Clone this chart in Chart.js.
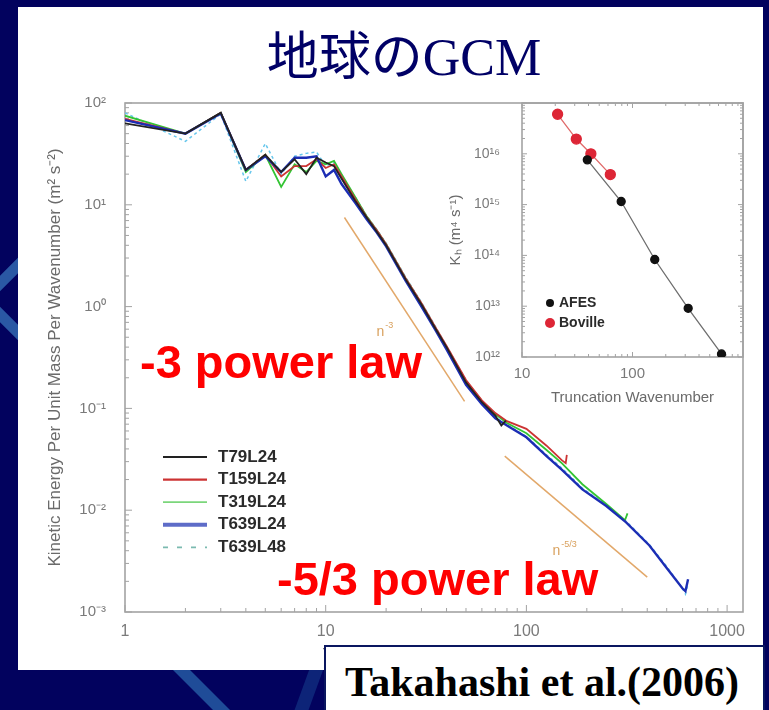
<!DOCTYPE html>
<html>
<head>
<meta charset="utf-8">
<script src="https://cdn.jsdelivr.net/npm/chart.js@4.4.1/dist/chart.umd.min.js"></script>
<style>
  html, body { margin: 0; padding: 0; }
  body { width: 769px; height: 710px; position: relative; overflow: hidden; background: #02025e; }
  .stripe { position: absolute; }
  #panel { position: absolute; left: 18px; top: 7px; width: 745px; height: 663px; background: #fff; }
  #title { position: absolute; left: 0; top: 32px; width: 808px; text-align: center; margin: 0;
           font: normal 52px/52px "Liberation Serif", "Noto Sans CJK JP", serif; color: #000066; }
  #mainWrap { position: absolute; left: 18px; top: 95px; }
  #insetWrap { position: absolute; left: 430px; top: 95px; }
  .law { position: absolute; font: bold 47px/47px "Liberation Sans", Arial, sans-serif; color: #ff0000; white-space: nowrap; }
  #ref { position: absolute; left: 324px; top: 645px; width: 437px; height: 80px; background: #fff;
         border: 2px solid #0a1660; }
  #ref span { position: absolute; left: 19px; top: 14px; font: bold 42px/42px "Liberation Serif", "Times New Roman", serif;
              color: #000; white-space: nowrap; }
</style>
</head>
<body>
<div class="stripe" style="left:198px;top:655px;width:17px;height:80px;background:#1f4c98;transform:skewX(45deg);"></div>
<div class="stripe" style="left:300px;top:660px;width:14px;height:70px;background:#0d2478;transform:skewX(-20deg);"></div>
<div class="stripe" style="left:-8px;top:262px;width:52px;height:52px;border:11px solid #2a58a4;transform:rotate(45deg);"></div>
<div id="panel"></div>
<div id="title">地球のGCM</div>
<div id="mainWrap"><canvas id="main" width="745" height="575"></canvas></div>
<div id="insetWrap"><canvas id="inset" width="333" height="315"></canvas></div>
<div class="law" style="left:140px;top:338px;">-3 power law</div>
<div class="law" style="left:277px;top:555px;">-5/3 power law</div>
<div id="ref"><span>Takahashi et al.(2006)</span></div>

<script>
// ---- main spectrum data ----
const nT79 = [1,2,3,4,5,6,7,8,9,10,11,12,14,16,18,20,25,30,35,40,50,60,70,75,79];
const eT79 = [63,50,80,22,31,21,28,20,29,26,24,18,11,7.5,5.4,4.0,1.85,1.05,0.62,0.40,0.18,0.115,0.085,0.068,0.076];

const nT159 = [1,2,3,4,5,6,7,8,9,10,11,12,14,16,18,20,25,30,35,40,50,60,70,80,100,126,150,157,159];
const eT159 = [70,50,80,22,31,19,24,24,28,23,25,19,11.5,7.6,5.6,4.1,1.9,1.08,0.64,0.41,0.19,0.12,0.09,0.075,0.063,0.043,0.031,0.029,0.035];

const nT319 = [1,2,3,4,5,6,7,8,9,10,11,12,14,16,18,20,25,30,35,40,50,60,70,80,100,126,150,190,250,310,319];
const eT319 = [75,50,80,21,31,15,25,21,27,25,27,20,12,7.7,5.6,4.1,1.9,1.07,0.63,0.40,0.185,0.118,0.088,0.072,0.057,0.039,0.029,0.018,0.0115,0.0080,0.0093];

const nT639 = [1,2,3,4,5,6,7,8,9,10,11,12,14,16,18,20,25,30,35,40,50,60,70,80,100,126,150,190,250,314,410,500,600,620,639];
const eT639L24 = [68,50,79,22,30,21,29,29,30,19,22,16,10.5,7.2,5.3,3.9,1.8,1.0,0.60,0.38,0.17,0.11,0.08,0.068,0.052,0.034,0.025,0.016,0.011,0.0076,0.0045,0.0027,0.0017,0.0016,0.0021];
const eT639L48 = [80,42,78,17,40,20,30,32,33,24,26,19,12,7.8,5.7,4.2,1.95,1.1,0.65,0.41,0.19,0.115,0.082,0.069,0.053,0.035,0.026,0.0165,0.0112,0.0078,0.0046,0.0028,0.0017,0.0015,0.0019];

// reference power laws
const lawM3n = [12.4, 49.2];
const lawM3e = [7.5, 0.117];
const lawM53n = [78, 400];
const lawM53e = [0.034, 0.0022];
const lawTagN = [17.9, 135];
const lawTagE = [0.51, 0.0036];
const lawTagExp = ['-3', '-5/3'];

const xTicks = [1, 10, 100, 1000];
const yTicks = [1e-3, 1e-2, 1e-1, 1, 10, 100];

// ---- inset data ----
const afesN = [39, 79, 159, 319, 639];
const afesK = [7.6e15, 1.15e15, 8.3e13, 9.1e12, 1.15e12];
const bovN = [21, 31, 42, 63];
const bovK = [6.0e16, 1.95e16, 1.0e16, 3.9e15];
const insetXTicks = [10, 100];
const insetYTicks = [1e12, 1e13, 1e14, 1e15, 1e16];

const sans = '"Liberation Sans", Arial, sans-serif';
const sup = {'-': '⁻', '0': '⁰', '1': '¹', '2': '²', '3': '³', '4': '⁴', '5': '⁵', '6': '⁶', '7': '⁷', '8': '⁸', '9': '⁹'};
function pow10Label(v) {
  const e = Math.round(Math.log10(v));
  return '10' + String(e).split('').map(c => sup[c]).join('');
}
function zip(xs, ys) { return xs.map((x, i) => ({x: x, y: ys[i]})); }

// keep the plot box where layout.padding puts it
function fixX(h) {
  return s => { s.height = h; s.paddingLeft = 0; s.paddingRight = 0; };
}
function fixY(w) {
  return s => { s.width = w; s.paddingTop = 0; s.paddingBottom = 0; };
}

// frame + inward ticks for log axes
const logFrame = {
  id: 'logFrame',
  beforeDatasetsDraw(chart, args, opts) {
    const {ctx, chartArea: a} = chart;
    const sx = chart.scales.x, sy = chart.scales.y;
    ctx.save();
    ctx.strokeStyle = opts.color;
    ctx.lineWidth = opts.width;
    ctx.strokeRect(a.left, a.top, a.right - a.left, a.bottom - a.top);
    ctx.lineWidth = 1;
    const each = (scale, fn) => {
      const lo = Math.floor(Math.log10(scale.min)), hi = Math.ceil(Math.log10(scale.max));
      for (let e = lo; e <= hi; e++) {
        for (let m = 1; m <= 9; m++) {
          const v = m * Math.pow(10, e);
          if (v < scale.min * 0.999 || v > scale.max * 1.001) continue;
          fn(scale.getPixelForValue(v), m === 1 ? opts.major : opts.minor);
        }
      }
    };
    ctx.beginPath();
    each(sx, (p, len) => {
      if (opts.sides.includes('bottom')) { ctx.moveTo(p, a.bottom); ctx.lineTo(p, a.bottom - len); }
      if (opts.sides.includes('top')) { ctx.moveTo(p, a.top); ctx.lineTo(p, a.top + len); }
    });
    each(sy, (p, len) => {
      if (opts.sides.includes('left')) { ctx.moveTo(a.left, p); ctx.lineTo(a.left + len, p); }
      if (opts.sides.includes('right')) { ctx.moveTo(a.right, p); ctx.lineTo(a.right - len, p); }
    });
    ctx.stroke();
    ctx.restore();
  }
};

// legend drawn inside the plot
const insideKey = {
  id: 'insideKey',
  afterDraw(chart, args, opts) {
    const ctx = chart.ctx;
    ctx.save();
    ctx.font = opts.font;
    ctx.fillStyle = opts.textColor;
    ctx.textBaseline = 'middle';
    let row = 0;
    chart.data.datasets.forEach(ds => {
      if (ds.inKey === false) return;
      const y = opts.y + row * opts.rowH;
      if (opts.kind === 'line') {
        ctx.strokeStyle = ds.keyColor || ds.borderColor;
        ctx.lineWidth = ds.keyWidth || ds.borderWidth;
        ctx.setLineDash(ds.keyDash || []);
        ctx.beginPath();
        ctx.moveTo(opts.x, y);
        ctx.lineTo(opts.x + opts.lineLen, y);
        ctx.stroke();
        ctx.setLineDash([]);
      } else {
        ctx.fillStyle = ds.pointBackgroundColor;
        ctx.beginPath();
        ctx.arc(opts.x, y, ds.pointRadius, 0, Math.PI * 2);
        ctx.fill();
        ctx.fillStyle = opts.textColor;
      }
      ctx.fillText(ds.label, opts.x + opts.lineLen + opts.gap, y);
      row++;
    });
    ctx.restore();
  }
};

// n^-3 / n^-5/3 tags beside the reference lines
const lawTags = {
  id: 'lawTags',
  afterDatasetsDraw(chart) {
    const {ctx, scales} = chart;
    ctx.save();
    ctx.fillStyle = '#d9a15e';
    ctx.textBaseline = 'alphabetic';
    lawTagN.forEach((n, i) => {
      const px = scales.x.getPixelForValue(n);
      const py = scales.y.getPixelForValue(lawTagE[i]);
      ctx.font = '14px ' + sans;
      ctx.fillText('n', px, py);
      const w = ctx.measureText('n').width;
      ctx.font = '9px ' + sans;
      ctx.fillText(lawTagExp[i], px + w + 1, py - 8);
    });
    ctx.restore();
  }
};

const mainSets = [
  {label: 'T79L24', data: zip(nT79, eT79), borderColor: '#222222', borderWidth: 1.8, order: 1, keyWidth: 2.2},
  {label: 'T159L24', data: zip(nT159, eT159), borderColor: '#cc3333', borderWidth: 1.8, order: 3, keyWidth: 2.2},
  {label: 'T319L24', data: zip(nT319, eT319), borderColor: '#33c433', borderWidth: 1.8, order: 4, keyColor: '#7bd67b', keyWidth: 1.8},
  {label: 'T639L24', data: zip(nT639, eT639L24), borderColor: '#1c2db4', borderWidth: 2.4, order: 2, keyColor: '#5e6cc8', keyWidth: 4},
  {label: 'T639L48', data: zip(nT639, eT639L48), borderColor: '#66c6ec', borderWidth: 1.5, borderDash: [3, 3], order: 5,
   keyColor: '#7bbab0', keyWidth: 1.8, keyDash: [5, 9]},
  {label: 'n^-3', data: zip(lawM3n, lawM3e), borderColor: '#e2a86a', borderWidth: 1.5, order: 6, inKey: false},
  {label: 'n^-5/3', data: zip(lawM53n, lawM53e), borderColor: '#e2a86a', borderWidth: 1.5, order: 6, inKey: false}
];

new Chart(document.getElementById('main'), {
  type: 'line',
  data: {datasets: mainSets},
  options: {
    responsive: false,
    animation: false,
    parsing: false,
    layout: {padding: {left: 0, right: 20, top: 8, bottom: 0}},
    elements: {point: {radius: 0}, line: {tension: 0}},
    plugins: {
      legend: {display: false},
      tooltip: {enabled: false},
      logFrame: {color: '#a3a3a3', width: 1.6, major: 7, minor: 4, sides: ['bottom', 'left']},
      insideKey: {kind: 'line', x: 145, y: 362, rowH: 22.6, lineLen: 44, gap: 11,
                  font: 'bold 17px ' + sans, textColor: '#2a2a2a'}
    },
    scales: {
      x: {
        type: 'logarithmic', min: 1, max: 1200,
        afterBuildTicks: s => { s.ticks = xTicks.map(v => ({value: v})); },
        afterFit: fixX(58),
        grid: {display: false, drawTicks: false},
        border: {display: false},
        ticks: {autoSkip: false, maxRotation: 0, padding: 10, color: '#7a7a7a',
                font: {family: sans, size: 16}, callback: v => String(v)},
        title: {display: true, text: 'Total Horizontal Wavenumber', color: '#6a6a6a',
                font: {family: sans, size: 17}, padding: {top: 0, bottom: 4}}
      },
      y: {
        type: 'logarithmic', min: 1e-3, max: 100,
        afterBuildTicks: s => { s.ticks = yTicks.map(v => ({value: v})); },
        afterFit: fixY(107),
        grid: {display: false, drawTicks: false},
        border: {display: false},
        ticks: {autoSkip: false, padding: 19, color: '#7a7a7a',
                font: {family: sans, size: 15}, callback: v => pow10Label(v)},
        title: {display: true, text: 'Kinetic Energy Per Unit Mass Per Wavenumber (m² s⁻²)', color: '#6a6a6a',
                font: {family: sans, size: 17}, padding: {top: 27, bottom: 0}}
      }
    }
  },
  plugins: [logFrame, insideKey, lawTags]
});

new Chart(document.getElementById('inset'), {
  type: 'scatter',
  data: {
    datasets: [
      {label: 'AFES', data: zip(afesN, afesK), showLine: true, borderColor: '#6e6e6e', borderWidth: 1.3,
       pointBackgroundColor: '#111111', pointBorderColor: '#111111', pointRadius: 4, order: 1},
      {label: 'Boville', data: zip(bovN, bovK), showLine: true, borderColor: '#e06a6a', borderWidth: 1.3,
       pointBackgroundColor: '#dd2636', pointBorderColor: '#dd2636', pointRadius: 5, order: 2}
    ]
  },
  options: {
    responsive: false,
    animation: false,
    parsing: false,
    layout: {padding: {left: 0, right: 20, top: 8, bottom: 0}},
    plugins: {
      legend: {display: false},
      tooltip: {enabled: false},
      logFrame: {color: '#a3a3a3', width: 1.6, major: 5, minor: 3, sides: ['bottom', 'left', 'top', 'right']},
      insideKey: {kind: 'dot', x: 120, y: 208, rowH: 20, lineLen: 0, gap: 9,
                  font: 'bold 14px ' + sans, textColor: '#2a2a2a'}
    },
    scales: {
      x: {
        type: 'logarithmic', min: 10, max: 1000,
        afterBuildTicks: s => { s.ticks = insetXTicks.map(v => ({value: v})); },
        afterFit: fixX(53),
        grid: {display: false, drawTicks: false},
        border: {display: false},
        ticks: {autoSkip: false, maxRotation: 0, padding: 8, color: '#7a7a7a',
                font: {family: sans, size: 15}, callback: v => String(v)},
        title: {display: true, text: 'Truncation Wavenumber', color: '#6a6a6a',
                font: {family: sans, size: 15}, padding: {top: 0, bottom: 3}}
      },
      y: {
        type: 'logarithmic', min: 1e12, max: 1e17,
        afterBuildTicks: s => { s.ticks = insetYTicks.map(v => ({value: v})); },
        afterFit: fixY(92),
        grid: {display: false, drawTicks: false},
        border: {display: false},
        ticks: {autoSkip: false, padding: 22, color: '#7a7a7a',
                font: {family: sans, size: 14}, callback: v => pow10Label(v)},
        title: {display: true, text: 'Kₕ (m⁴ s⁻¹)', color: '#6a6a6a',
                font: {family: sans, size: 15}, padding: {top: 17, bottom: 0}}
      }
    }
  },
  plugins: [logFrame, insideKey]
});
</script>
</body>
</html>
